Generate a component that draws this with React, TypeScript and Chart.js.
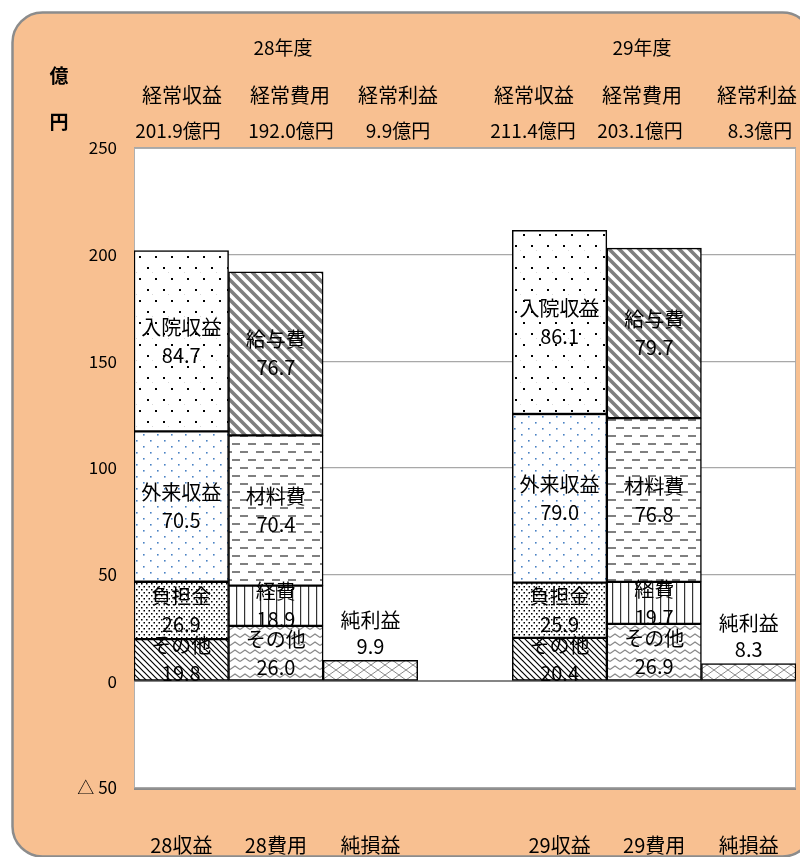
import React, { useEffect, useRef } from 'react';
import { Chart, registerables } from 'chart.js';

Chart.register(...registerables);

// ---- data ----
const categories = ['28収益', '28費用', '純損益', '', '29収益', '29費用', '純損益'];
const yearLabels = ['28年度', '29年度'];
const headerTitles = ['経常収益', '経常費用', '経常利益'];
const headerTotals28 = ['201.9億円', '192.0億円', '9.9億円'];
const headerTotals29 = ['211.4億円', '203.1億円', '8.3億円'];
const unitLabel = ['億', '円'];

const revOther = [19.8, null, null, null, 20.4, null, null];
const revBurden = [26.9, null, null, null, 25.9, null, null];
const revOutpatient = [70.5, null, null, null, 79.0, null, null];
const revInpatient = [84.7, null, null, null, 86.1, null, null];
const costOther = [null, 26.0, null, null, null, 26.9, null];
const costExpense = [null, 18.9, null, null, null, 19.7, null];
const costMaterial = [null, 70.4, null, null, null, 76.8, null];
const costSalary = [null, 76.7, null, null, null, 79.7, null];
const netProfit = [null, null, 9.9, null, null, null, 8.3];

const segmentNames = ['その他', '負担金', '外来収益', '入院収益', 'その他', '経費', '材料費', '給与費', '純利益'];

const Y_MIN = -50;
const Y_MAX = 250;
const Y_STEP = 50;

const CJK = '"Noto Sans CJK JP", "Noto Sans", sans-serif';

function tile(w: number, h: number, draw: (c: CanvasRenderingContext2D) => void) {
  const cv = document.createElement('canvas');
  cv.width = w;
  cv.height = h;
  const c = cv.getContext('2d')!;
  c.fillStyle = '#ffffff';
  c.fillRect(0, 0, w, h);
  draw(c);
  return cv;
}

function makePatterns(ctx: CanvasRenderingContext2D) {
  const p = (cv: HTMLCanvasElement) => ctx.createPattern(cv, 'repeat') as CanvasPattern;
  const dot = (c: CanvasRenderingContext2D, x: number, y: number, s: number, col: string) => {
    c.fillStyle = col;
    c.fillRect(x, y, s, s);
  };
  const diag = (c: CanvasRenderingContext2D, w: number, h: number, lw: number, col: string) => {
    c.strokeStyle = col;
    c.lineWidth = lw;
    c.beginPath();
    c.moveTo(-w, -h); c.lineTo(2 * w, 2 * h);
    c.moveTo(-w, 0); c.lineTo(w, 2 * h);
    c.moveTo(0, -h); c.lineTo(2 * w, h);
    c.stroke();
  };
  return {
    inpatient: p(tile(16, 22, (c) => { dot(c, 3, 3, 2, '#000'); dot(c, 11, 14, 2, '#000'); dot(c, 8, 8, 1, '#d8d8d8'); })),
    outpatient: p(tile(14, 12, (c) => { dot(c, 3, 2, 1.6, '#4a82c4'); dot(c, 10, 8, 1.6, '#4a82c4'); })),
    burden: p(tile(5, 6, (c) => { dot(c, 1, 1, 1.5, '#000'); dot(c, 3.5, 4, 1.5, '#000'); })),
    revOther: p(tile(6, 6, (c) => diag(c, 6, 6, 1.2, '#000'))),
    costOther: p(tile(10, 8, (c) => {
      c.strokeStyle = '#8a8a8a'; c.lineWidth = 1.3;
      c.beginPath(); c.moveTo(0, 5.5); c.lineTo(5, 2); c.lineTo(10, 5.5); c.stroke();
    })),
    expense: p(tile(8, 8, (c) => { c.fillStyle = '#333'; c.fillRect(4, 0, 1.2, 8); })),
    material: p(tile(16, 16, (c) => { c.fillStyle = '#808080'; c.fillRect(0, 3, 8, 2); c.fillRect(8, 11, 8, 2); })),
    salary: p(tile(10, 10, (c) => diag(c, 10, 10, 3.6, '#7f7f7f'))),
    net: p(tile(14, 10, (c) => {
      c.strokeStyle = '#8a8a8a'; c.lineWidth = 1;
      c.beginPath();
      c.moveTo(0, 0); c.lineTo(14, 10);
      c.moveTo(14, 0); c.lineTo(0, 10);
      c.stroke();
    })),
  };
}

const roundRect = (c: CanvasRenderingContext2D, x: number, y: number, w: number, h: number, r: number) => {
  c.beginPath();
  c.moveTo(x + r, y);
  c.lineTo(x + w - r, y);
  c.arcTo(x + w, y, x + w, y + r, r);
  c.lineTo(x + w, y + h - r);
  c.arcTo(x + w, y + h, x + w - r, y + h, r);
  c.lineTo(x + r, y + h);
  c.arcTo(x, y + h, x, y + h - r, r);
  c.lineTo(x, y + r);
  c.arcTo(x, y, x + r, y, r);
  c.closePath();
};

const backgroundPlugin = {
  id: 'bgPanel',
  beforeDraw(chart: any) {
    const c: CanvasRenderingContext2D = chart.ctx;
    const a = chart.chartArea;
    c.save();
    roundRect(c, 12.5, 12.5, 800, 844, 30);
    c.fillStyle = '#F8C091';
    c.fill();
    c.lineWidth = 2.5;
    c.strokeStyle = '#8c8c8c';
    c.stroke();
    c.fillStyle = '#ffffff';
    c.fillRect(a.left, a.top, a.right - a.left, a.bottom - a.top);
    c.strokeStyle = '#b0b0b0';
    c.lineWidth = 1;
    c.strokeRect(a.left + 0.5, a.top + 0.5, a.right - a.left - 1, a.bottom - a.top);
    c.strokeStyle = '#8a8a8a';
    c.lineWidth = 2;
    c.beginPath();
    c.moveTo(a.left, a.bottom + 1);
    c.lineTo(a.right, a.bottom + 1);
    c.stroke();

    // header texts
    c.fillStyle = '#000';
    c.textAlign = 'center';
    c.textBaseline = 'middle';
    c.font = `19px ${CJK}`;
    const yearX = [283, 642];
    yearLabels.forEach((t, i) => c.fillText(t, yearX[i], 48));
    const cols = [[182, 290, 398], [534, 642, 757]];
    c.font = `20px ${CJK}`;
    cols.forEach((cx) => headerTitles.forEach((t, i) => c.fillText(t, cx[i], 95)));
    c.font = `19px ${CJK}`;
    const totCols = [[178, 291, 398], [533, 640, 760]];
    headerTotals28.forEach((t, i) => c.fillText(t, totCols[0][i], 131));
    headerTotals29.forEach((t, i) => c.fillText(t, totCols[1][i], 131));
    c.font = `bold 19px ${CJK}`;
    c.fillText(unitLabel[0], 59, 76);
    c.fillText(unitLabel[1], 59, 122);
    c.restore();
  },
};

const labelPlugin = {
  id: 'segLabels',
  afterDatasetsDraw(chart: any) {
    const c: CanvasRenderingContext2D = chart.ctx;
    c.save();
    c.fillStyle = '#000';
    c.textAlign = 'center';
    c.textBaseline = 'middle';
    c.font = `20px ${CJK}`;
    chart.data.datasets.forEach((ds: any, i: number) => {
      const meta = chart.getDatasetMeta(i);
      meta.data.forEach((el: any, j: number) => {
        const v = ds.data[j];
        if (v === null || v === undefined) return;
        const { x, y, base } = el.getProps(['x', 'y', 'base'], true);
        const txt = v.toFixed(1);
        if (ds.isNet) {
          c.fillText(segmentNames[i], x, y - 40);
          c.fillText(txt, x, y - 14);
        } else {
          const mid = (y + base) / 2;
          c.fillText(segmentNames[i], x, mid - 14);
          c.fillText(txt, x, mid + 14);
        }
      });
    });
    c.restore();
  },
};

export default function App() {
  const ref = useRef<HTMLCanvasElement>(null);
  useEffect(() => {
    const canvas = ref.current!;
    const ctx = canvas.getContext('2d')!;
    const pt = makePatterns(ctx);
    const mk = (data: (number | null)[], bg: CanvasPattern, extra: any = {}) => ({
      data,
      backgroundColor: bg,
      borderColor: '#000',
      borderWidth: 1.5,
      borderSkipped: false,
      stack: 's',
      barPercentage: 1,
      categoryPercentage: 1,
      ...extra,
    });
    const chart = new Chart(ctx, {
      type: 'bar',
      data: {
        labels: categories,
        datasets: [
          mk(revOther, pt.revOther),
          mk(revBurden, pt.burden),
          mk(revOutpatient, pt.outpatient),
          mk(revInpatient, pt.inpatient),
          mk(costOther, pt.costOther),
          mk(costExpense, pt.expense),
          mk(costMaterial, pt.material),
          mk(costSalary, pt.salary),
          mk(netProfit, pt.net, { isNet: true }),
        ] as any,
      },
      options: {
        responsive: false,
        animation: false,
        events: [],
        layout: { padding: { top: 148, right: 4, left: 0, bottom: 0 } },
        plugins: { legend: { display: false }, tooltip: { enabled: false } },
        scales: {
          x: {
            stacked: true,
            grid: { display: false, drawTicks: false },
            border: { display: false },
            ticks: { color: '#000', font: { family: CJK, size: 20 }, padding: 45, maxRotation: 0, autoSkip: false },
            afterFit: (s: any) => { s.height = 69; s.paddingLeft = 0; s.paddingRight = 0; },
          },
          y: {
            stacked: true,
            min: Y_MIN,
            max: Y_MAX,
            grid: {
              drawTicks: false,
              color: (c: any) => (c.tick && c.tick.value === 0 ? '#858585' : '#a8a8a8'),
              lineWidth: (c: any) => (c.tick && c.tick.value === 0 ? 2 : 1.2),
            },
            border: { display: false },
            ticks: {
              stepSize: Y_STEP,
              color: '#000',
              padding: 17,
              font: { family: CJK, size: 17 },
              callback: (v: any) => (v < 0 ? '△ ' + Math.abs(v) : String(v)),
            },
            afterFit: (s: any) => { s.width = 134; s.paddingTop = 0; s.paddingBottom = 0; },
          },
        },
      } as any,
      plugins: [backgroundPlugin, labelPlugin],
    });
    return () => chart.destroy();
  }, []);
  return (
    <div style={{ position: 'absolute', left: 0, top: 0, width: 800, height: 857 }}>
      <canvas ref={ref} width={800} height={857} style={{ display: 'block' }} />
    </div>
  );
}
